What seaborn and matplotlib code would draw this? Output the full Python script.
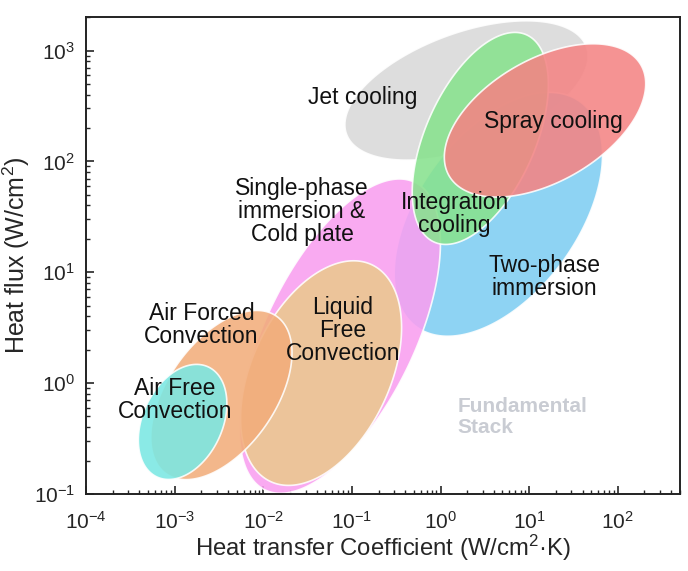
import numpy as np
import pandas as pd
import matplotlib
matplotlib.use("Agg")
import matplotlib.pyplot as plt
import seaborn as sns

# Cooling regimes: centre (h, q), semi-axes in decades of h, tilt in degrees
regions = ["Jet cooling", "Two-phase immersion", "Single-phase immersion",
           "Integration cooling", "Spray cooling", "Liquid Free Convection",
           "Air Forced Convection", "Air Free Convection"]
center_h = [1.96, 4.49, 0.0733, 2.81, 15.1, 0.0449, 3.37e-3, 1.23e-3]
center_q = [436, 33.3, 2.65, 161, 234, 1.23, 0.78, 0.446]
semi_major = [1.44, 1.57, 1.93, 1.28, 1.25, 1.35, 1.085, 0.685]
semi_minor = [0.652, 0.90, 0.84, 0.618, 0.69, 0.78, 0.607, 0.449]
tilt = [20, 54, 64, 66, 30, 65, 55, 65]
colors = ["#d9d9d9", "#7fcdf2", "#f99ff0", "#88e28e", "#f48484",
          "#ebc88e", "#f2ad7b", "#7ae8e3"]

labels = ["Jet cooling", "Spray cooling", "Single-phase\nimmersion &\nCold plate",
          "Integration\ncooling", "Two-phase\nimmersion", "Air Forced\nConvection",
          "Liquid\nFree\nConvection", "Air Free\nConvection"]
label_h = [0.133, 18.6, 0.0274, 1.44, 14.8, 2.01e-3, 0.0793, 1.0e-3]
label_q = [378, 229, 35.5, 33.4, 9.0, 3.33, 3.0, 0.703]

df = pd.DataFrame({"region": regions, "h": center_h, "q": center_q,
                   "a": semi_major, "b": semi_minor, "tilt": tilt, "color": colors})

sns.set_style("ticks")
plt.rcParams["font.family"] = ["Liberation Sans", "DejaVu Sans"]
plt.rcParams["mathtext.default"] = "regular"

fig, ax = plt.subplots(figsize=(6.88, 5.71), dpi=100)
fig.subplots_adjust(left=0.125, right=0.988, bottom=0.135, top=0.970)
ax.set_xscale("log")
ax.set_yscale("log")
xlim = (1e-4, 500)
ylim = (0.1, 2000)
ax.set_xlim(*xlim)
ax.set_ylim(*ylim)

# ratio of pixels per decade (y over x) so tilted ellipses look right on screen
pos = ax.get_position()
px_x = pos.width * fig.get_figwidth() * fig.dpi / np.log10(xlim[1] / xlim[0])
px_y = pos.height * fig.get_figheight() * fig.dpi / np.log10(ylim[1] / ylim[0])
k = px_y / px_x

t = np.linspace(0, 2 * np.pi, 300)
for _, r in df.iterrows():
    th = np.deg2rad(r["tilt"])
    u = r["a"] * np.cos(t) * np.cos(th) - r["b"] * np.sin(t) * np.sin(th)
    w = r["a"] * np.cos(t) * np.sin(th) + r["b"] * np.sin(t) * np.cos(th)
    xs = 10 ** (np.log10(r["h"]) + u)
    ys = 10 ** (np.log10(r["q"]) + w / k)
    ax.fill(xs, ys, facecolor=r["color"], edgecolor="white", lw=1.2, alpha=0.88)

for lab, lx, ly in zip(labels, label_h, label_q):
    ax.text(lx, ly, lab, ha="center", va="center", fontsize=16.5,
            linespacing=1.0, color="#111111")

ax.text(1.55, 0.494, "Fundamental\nStack", ha="left", va="center", fontsize=15,
        fontweight="bold", color="#c9ccd3", linespacing=1.15)

ax.set_xlabel("Heat transfer Coefficient (W/cm$^2$·K)", fontsize=17.2, labelpad=0)
ax.set_ylabel("Heat flux (W/cm$^2$)", fontsize=18, labelpad=1)
ax.tick_params(which="both", direction="in", top=False, right=False, labelsize=15)
ax.tick_params(axis="x", which="major", pad=12)
ax.tick_params(axis="y", which="major", pad=8)
ax.tick_params(which="major", length=6, width=1.2)
ax.tick_params(which="minor", length=3, width=1)
for s in ax.spines.values():
    s.set_linewidth(1.4)
    s.set_color("#222222")

fig.savefig("out.png", dpi=100)
